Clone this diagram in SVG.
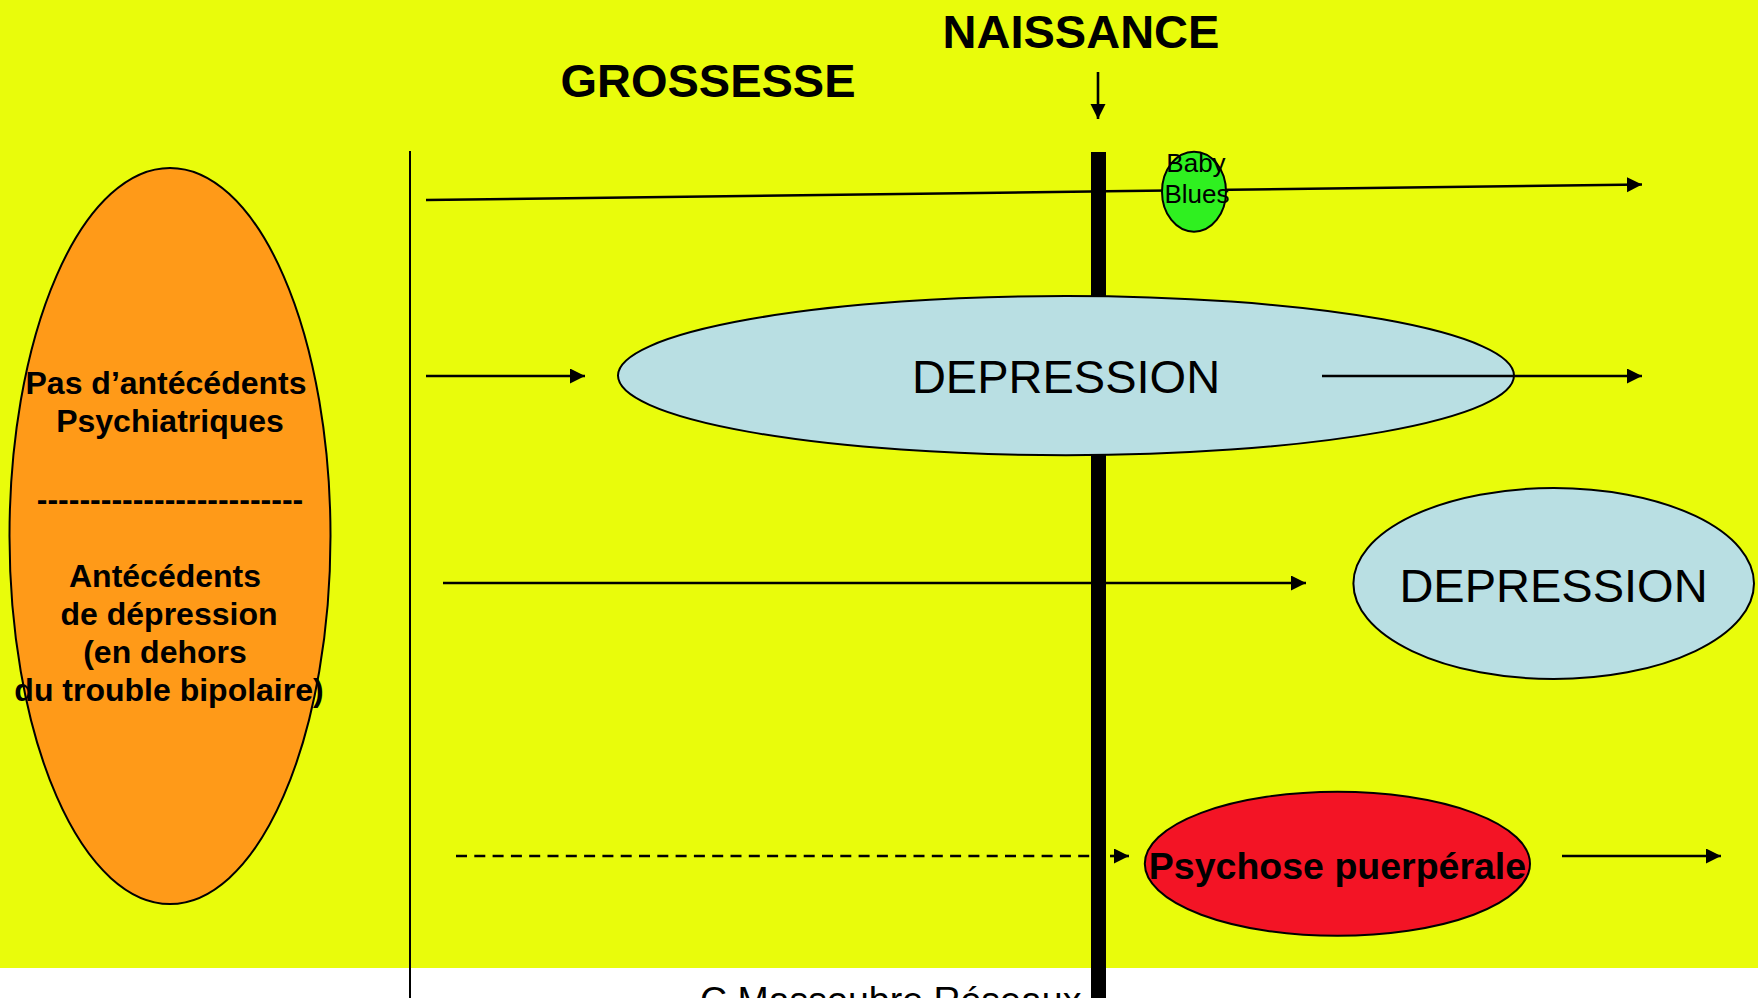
<svg xmlns="http://www.w3.org/2000/svg" width="1758" height="998" viewBox="0 0 1758 998">
<style>
text{font-family:"Liberation Sans",Arial,sans-serif;fill:#000}
.title{font-size:47px;font-weight:bold;text-anchor:middle}
.lbl{font-size:32px;font-weight:bold;text-anchor:middle}
.dep{font-size:47px;text-anchor:middle}
.bb{font-size:26px;text-anchor:middle}
.ln{stroke:#000;stroke-width:2.6;fill:none}
.ell{stroke:#000;stroke-width:2}
</style>
<defs>
<marker id="ah" markerUnits="userSpaceOnUse" markerWidth="16" markerHeight="16" refX="15" refY="7.5" orient="auto">
<path d="M0,0 L15,7.5 L0,15 Z" fill="#000"/>
</marker>
</defs>
<rect x="0" y="0" width="1758" height="998" fill="#fff"/>
<rect x="0" y="0" width="1758" height="968" fill="#E9FC0B"/>
<g id="timeline">
<line x1="410" y1="151" x2="410" y2="998" stroke="#000" stroke-width="2"/>
<rect x="1091" y="152" width="15" height="846" fill="#000"/>
</g>
<g id="depression1">
<ellipse class="ell" cx="1066" cy="375.6" rx="448" ry="79.6" fill="#B9DFE3"/>
<text class="dep" x="1066" y="393">DEPRESSION</text>
</g>
<g id="depression2">
<ellipse class="ell" cx="1553.7" cy="583.5" rx="200.3" ry="95.5" fill="#B9DFE3"/>
<text class="dep" x="1553.5" y="602">DEPRESSION</text>
</g>
<g id="connectors">
<line class="ln" x1="1098" y1="72" x2="1098" y2="119" marker-end="url(#ah)" stroke-width="2"/>
<line class="ln" x1="426" y1="200" x2="1091" y2="191.5"/>
<line class="ln" x1="1106" y1="191.3" x2="1642" y2="184.5" marker-end="url(#ah)"/>
<line class="ln" x1="426" y1="376" x2="585" y2="376" marker-end="url(#ah)"/>
<line class="ln" x1="1322" y1="376" x2="1642" y2="376" marker-end="url(#ah)"/>
<line class="ln" x1="443" y1="583" x2="1091" y2="583"/>
<line class="ln" x1="1106" y1="583" x2="1306" y2="583" marker-end="url(#ah)"/>
<line class="ln" x1="456" y1="856" x2="1091" y2="856" stroke-dasharray="11 7.3"/>
<line class="ln" x1="1110" y1="856" x2="1129" y2="856" marker-end="url(#ah)"/>
<line class="ln" x1="1562" y1="856" x2="1721" y2="856" marker-end="url(#ah)"/>
</g>
<g id="babyblues">
<ellipse class="ell" cx="1194" cy="191.7" rx="32" ry="40" fill="#2FF020"/>
<text class="bb" x="1196" y="172">Baby</text>
<text class="bb" x="1197" y="203">Blues</text>
</g>
<g id="psychose">
<ellipse class="ell" cx="1337.4" cy="863.8" rx="192.6" ry="72" fill="#F31425"/>
<text class="lbl" x="1337.5" y="879" style="font-size:37.5px">Psychose puerpérale</text>
</g>
<g id="antecedents">
<ellipse class="ell" cx="170" cy="536" rx="160.5" ry="368" fill="#FF9A18"/>
<text class="lbl" x="166" y="394">Pas d’antécédents</text>
<text class="lbl" x="170" y="432">Psychiatriques</text>
<text class="lbl" x="170" y="510">-------------------------</text>
<text class="lbl" x="165" y="587">Antécédents</text>
<text class="lbl" x="169" y="625">de dépression</text>
<text class="lbl" x="165" y="663">(en dehors</text>
<text class="lbl" x="169" y="701">du trouble bipolaire)</text>
</g>
<g id="titles">
<text class="title" x="1081" y="48">NAISSANCE</text>
<text class="title" x="708" y="97">GROSSESSE</text>
</g>
<text x="700" y="1013" style="font-size:37.5px">C Massoubre Réseaux</text>
</svg>
